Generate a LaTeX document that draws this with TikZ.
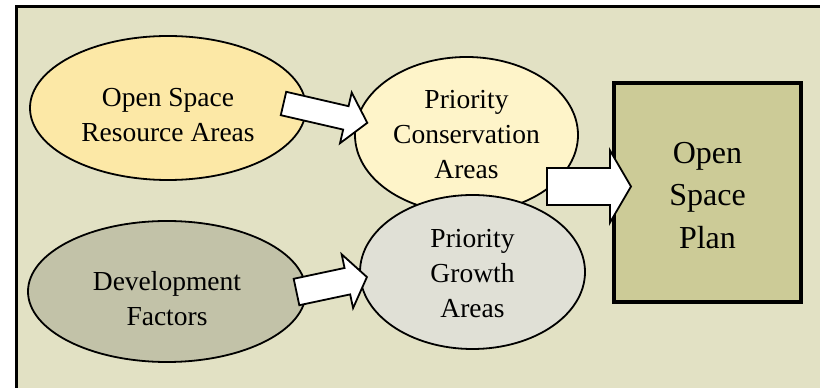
\documentclass[tikz,border=0pt]{standalone}
\usepackage{fontspec}
\setmainfont{Liberation Serif}
\usetikzlibrary{shapes.geometric}
\definecolor{bgc}{HTML}{E2E1C4}
\definecolor{ellA}{HTML}{FCE8A6}
\definecolor{ellB}{HTML}{FEF4C9}
\definecolor{ellC}{HTML}{C2C2A8}
\definecolor{ellD}{HTML}{E0E0D6}
\definecolor{planc}{HTML}{CCCB97}
\tikzset{
  ell/.style={ellipse, draw=black, line width=1.8pt, inner sep=0pt},
  elltext/.style={inner sep=0pt, align=center, font=\fontsize{27.5}{35}\selectfont},
  planbox/.style={draw=black, line width=4pt, fill=planc, inner sep=0pt},
  plantext/.style={inner sep=0pt, align=center, font=\fontsize{32}{42.5}\selectfont},
  blockarrow/.style={draw=black, fill=white, line width=1.8pt, line join=miter}
}
% #1 name, #2 angle, #3 length, #4 shaft width, #5 head width, #6 head length
\newcommand{\myblockarrow}[6]{%
  \begin{scope}[shift={(#1)}, rotate=#2]
    \draw[blockarrow] (0,#4/2) -- (#3-#6,#4/2) -- (#3-#6,#5/2) -- (#3,0)
      -- (#3-#6,-#5/2) -- (#3-#6,-#4/2) -- (0,-#4/2) -- cycle;
  \end{scope}}
\begin{document}
\begin{tikzpicture}[x=1pt,y=1pt]
\clip (0,0) rectangle (820,388);
\fill[bgc] (16,-5) rectangle (830,381);
\draw[line width=3pt] (16,-5) -- (16,381) -- (830,381);
% ellipses (y = 388 - image y)
\node[ell, fill=ellA, minimum width=276, minimum height=144] (osra) at (168,280) {};
\node[elltext] (osra-t) at ([yshift=-7]osra.center) {Open Space\\Resource Areas};
\node[ell, fill=ellB, minimum width=223, minimum height=156] (pca) at (466.5,253) {};
\node[elltext] (pca-t) at ([yshift=0]pca.center) {Priority\\Conservation\\Areas};
\node[ell, fill=ellC, minimum width=278, minimum height=141] (df) at (167,96.5) {};
\node[elltext] (df-t) at ([yshift=-7]df.center) {Development\\Factors};
\node[ell, fill=ellD, minimum width=225, minimum height=154] (pga) at (472.5,116) {};
\node[elltext] (pga-t) at ([yshift=-2]pga.center) {Priority\\Growth\\Areas};
\node[planbox, minimum width=187, minimum height=219] (osp) at (707.5,195.5) {};
\node[plantext] (osp-t) at ([yshift=-3]osp.center) {Open\\Space\\Plan};
% block arrows
\coordinate (a1) at (283.5,284.5);
\coordinate (a2) at (547,201.5);
\coordinate (a3) at (296.5,96);
\myblockarrow{a1}{-13}{86}{24}{52}{22}
\myblockarrow{a2}{0}{84}{37}{72}{21}
\myblockarrow{a3}{12}{72}{27}{55}{20}
\end{tikzpicture}
\end{document}
